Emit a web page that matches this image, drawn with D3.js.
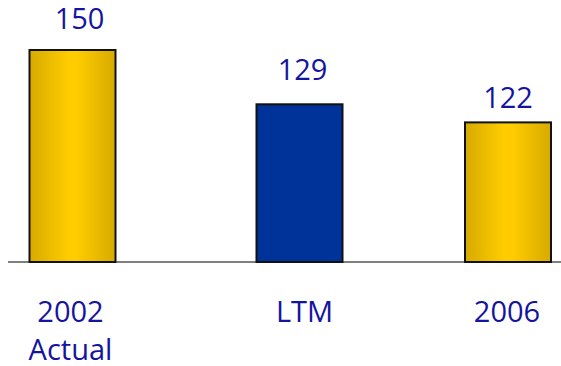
<!DOCTYPE html>
<html><head><meta charset="utf-8">
<script src="https://cdn.jsdelivr.net/npm/d3@7"></script>
<style>body{margin:0;background:#fff}svg{display:block}</style>
</head><body>
<script>
const categories = ["2002|Actual", "LTM", "2006"];
const values = [150, 129, 122];
const colorsKey = ["gold", "blue", "gold"];

const W = 561, H = 366;
const svg = d3.select("body").append("svg").attr("width", W).attr("height", H);

const defs = svg.append("defs");
const grad = defs.append("linearGradient").attr("id", "goldGrad").attr("x1", "0%").attr("x2", "100%").attr("y1", "0%").attr("y2", "0%");
grad.append("stop").attr("offset", "0%").attr("stop-color", "#d6aa00");
grad.append("stop").attr("offset", "45%").attr("stop-color", "#ffcc00");
grad.append("stop").attr("offset", "55%").attr("stop-color", "#ffcc00");
grad.append("stop").attr("offset", "100%").attr("stop-color", "#d6aa00");

const x = d3.scaleBand().domain(categories).range([-14, 626]).paddingInner(0.6).paddingOuter(0.0);
const baseY = 262;
const y = d3.scaleLinear().domain([68, 150]).range([baseY, 50]);

// baseline
svg.append("line").attr("x1", 8).attr("x2", W).attr("y1", baseY).attr("y2", baseY)
  .attr("stroke", "#555").attr("stroke-width", 1.5);

const bw = 86;
const cx = i => [72.5, 299.5, 508][i];
const xs = d3.scaleOrdinal().domain(categories).range(categories.map((c, i) => cx(i)));

svg.selectAll("rect.bar").data(values).enter().append("rect")
  .attr("x", (d, i) => xs(categories[i]) - bw / 2)
  .attr("y", d => y(d))
  .attr("width", bw)
  .attr("height", d => baseY - y(d))
  .attr("fill", (d, i) => colorsKey[i] === "gold" ? "url(#goldGrad)" : "#003399")
  .attr("stroke", "#111").attr("stroke-width", 2);

const font = "'Open Sans', 'Noto Sans', sans-serif";
const txtColor = "#1414a0";

svg.selectAll("text.val").data(values).enter().append("text")
  .attr("x", (d, i) => xs(categories[i]) + [7, 3, 0][i])
  .attr("y", (d, i) => y(d) - [21, 24, 14][i])
  .attr("text-anchor", "middle")
  .attr("font-family", font).attr("font-size", 29)
  .attr("fill", txtColor)
  .text(d => d);

categories.forEach((c, i) => {
  const lines = c.split("|");
  const t = svg.append("text")
    .attr("text-anchor", "middle")
    .attr("font-family", font).attr("font-size", 29)
    .attr("fill", txtColor);
  lines.forEach((ln, j) => {
    t.append("tspan").attr("x", xs(c) + [-2, 5, -1][i]).attr("y", 322 + j * 38).text(ln);
  });
});
</script>
</body></html>
